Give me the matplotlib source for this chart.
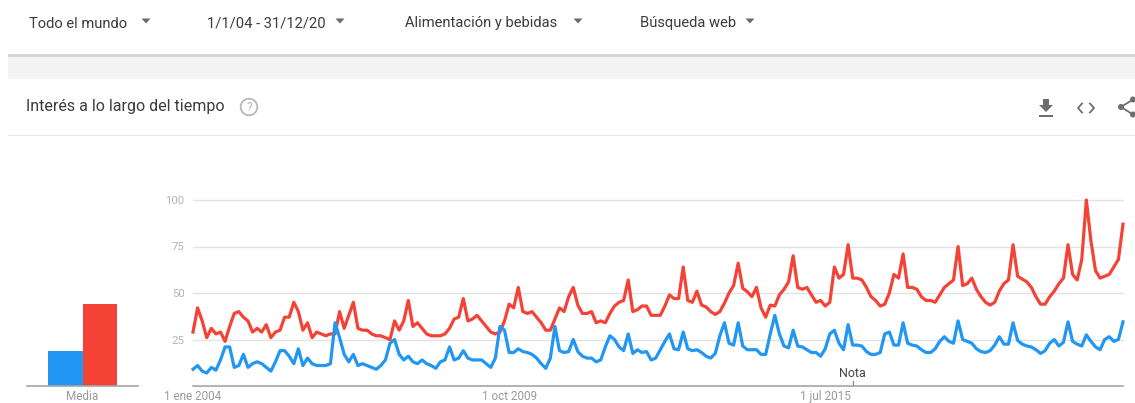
import matplotlib
matplotlib.use("Agg")
import matplotlib.pyplot as plt
from matplotlib.patches import Rectangle, Circle, Polygon
import numpy as np

W, H = 1135, 403
BLUE = '#2196F3'
RED = '#F44336'
FONT = ['Roboto', 'DejaVu Sans']
plt.rcParams['font.family'] = FONT

# ---------------- data (monthly interest, Jan 2004 - Dec 2020) ----------------
red_2004 = [29, 42, 35, 26, 31, 28, 29, 24, 32, 39, 40, 37]
red_2005 = [35, 29, 31, 29, 33, 26, 29, 30, 37, 37, 45, 40]
red_2006 = [30, 34, 26, 29, 28, 27, 28, 28, 40, 31, 38, 45]
red_2007 = [31, 30, 30, 28, 27, 27, 26, 25, 35, 30, 35, 46]
red_2008 = [32, 34, 31, 28, 27, 27, 27, 28, 31, 36, 37, 47]
red_2009 = [35, 36, 38, 35, 32, 29, 28, 29, 35, 44, 42, 53]
red_2010 = [40, 39, 40, 37, 34, 30, 30, 36, 42, 40, 48, 53]
red_2011 = [43.5, 39, 39, 40, 34, 35, 34, 39, 43, 45, 46, 57]
red_2012 = [40, 41, 43, 43, 38, 38, 38, 43, 49, 47, 47, 64]
red_2013 = [46, 45, 51, 43.5, 42.5, 40, 38.5, 40, 44.5, 50, 54, 66]
red_2014 = [52.5, 50.7, 48, 53, 42, 37, 43.5, 43, 49, 52, 56, 70]
red_2015 = [53, 52, 53, 49, 45, 46, 43, 45, 64, 58, 60, 76]
red_2016 = [58, 58, 57, 53, 48, 46, 43, 44, 50, 60, 58, 71]
red_2017 = [53, 53, 52, 48, 46, 46, 45, 49, 53, 55, 57, 75]
red_2018 = [54, 55, 58, 52, 48, 45, 43.5, 45, 51, 55, 57, 76]
red_2019 = [59, 57.5, 56, 53, 48, 44, 44, 48, 51, 55, 58, 76]
red_2020 = [60, 57, 68, 100, 78, 62, 58, 59, 60, 64, 68, 87]

blue_2004 = [9, 11, 8, 7, 10, 8.5, 14, 21, 21, 10, 11, 17]
blue_2005 = [10, 12, 13, 12, 10, 8, 13, 19, 19, 16, 12, 20]
blue_2006 = [11, 15, 12, 11, 11, 11, 12, 34, 26, 17, 13, 17]
blue_2007 = [11, 12, 11, 10, 9, 11, 14, 23, 25, 17, 14, 16]
blue_2008 = [13, 12, 14, 12, 11, 9.5, 13, 14, 21, 14, 15, 19]
blue_2009 = [15, 14, 14, 14, 12, 10, 15, 32, 30, 18, 18, 20]
blue_2010 = [18.5, 18, 17, 15, 12, 9.5, 15, 32, 19, 18, 18.5, 25]
blue_2011 = [18.5, 16, 15, 15, 13, 14, 21, 27, 25, 21, 19, 28]
blue_2012 = [17.5, 19.5, 18, 18.5, 14, 15, 19.5, 24, 28, 20, 19.5, 29]
blue_2013 = [20, 19, 19.5, 18, 16, 15, 17.5, 27, 34, 23, 22, 34]
blue_2014 = [21.5, 19.5, 19.5, 19.5, 17, 17, 28, 38, 28, 21.5, 20.5, 30]
blue_2015 = [21.5, 21, 19.5, 18, 18, 16, 20, 28, 30, 23, 19.5, 33]
blue_2016 = [22, 22, 21.5, 18.5, 17, 17, 18, 28, 29, 22, 22, 34]
blue_2017 = [23, 22, 21.5, 19.5, 18, 18, 20, 24, 26.5, 24, 23, 35]
blue_2018 = [25, 24, 23, 20, 18.5, 18, 19, 22, 26.5, 22.5, 22.5, 34]
blue_2019 = [24.5, 22.5, 21.5, 21, 19.5, 17.5, 19, 23, 25, 21.5, 23.5, 34.5]
blue_2020 = [24, 22.5, 21.5, 27.5, 24, 21, 19.5, 25, 26.5, 24, 25, 34.5]

red_years = [red_2004, red_2005, red_2006, red_2007, red_2008, red_2009, red_2010,
             red_2011, red_2012, red_2013, red_2014, red_2015, red_2016, red_2017,
             red_2018, red_2019, red_2020]
blue_years = [blue_2004, blue_2005, blue_2006, blue_2007, blue_2008, blue_2009, blue_2010,
              blue_2011, blue_2012, blue_2013, blue_2014, blue_2015, blue_2016, blue_2017,
              blue_2018, blue_2019, blue_2020]
red_values = [v for y in red_years for v in y]
blue_values = [v for y in blue_years for v in y]

avg_labels = ['Media']
avg_blue = 19
avg_red = 44

y_ticks = [25, 50, 75, 100]
x_tick_months = [0, 69, 138]
x_tick_labels = ['1 ene 2004', '1 oct 2009', '1 jul 2015']
note_month = 144
note_label = 'Nota'

filters = ['Todo el mundo', '1/1/04 - 31/12/20', 'Alimentación y bebidas', 'Búsqueda web']
title = 'Interés a lo largo del tiempo'

# ---------------- figure ----------------
fig = plt.figure(figsize=(W / 100, H / 100), dpi=100)
fig.patch.set_facecolor('white')

bg = fig.add_axes([0, 0, 1, 1])
bg.set_xlim(0, W)
bg.set_ylim(H, 0)
bg.axis('off')

# header filters
filter_x = [29, 207, 405, 640]
tri_x = [146, 340, 578, 750]
for t, x, tx in zip(filters, filter_x, tri_x):
    bg.text(x, 27.5, t, fontsize=10.6, color='#3c3c3c', va='baseline', ha='left')
    bg.add_patch(Polygon([[tx - 4.5, 18.5], [tx + 4.5, 18.5], [tx, 23.5]],
                         closed=True, color='#6b6b6b', lw=0))

# separator + grey band
bg.add_patch(Rectangle((8, 54), W - 8, 3, color='#d4d4d4', lw=0))
bg.add_patch(Rectangle((8, 57), W - 8, 22, color='#f4f4f4', lw=0))
bg.add_patch(Rectangle((8, 134.5), W - 8, 1.2, color='#e8e8e8', lw=0))

# title + help icon
bg.text(26, 111.5, title, fontsize=11.5, color='#3c3c3c', va='baseline', ha='left')
bg.add_patch(Circle((249, 107), 8.3, fill=False, ec='#b8b8b8', lw=1.3))
bg.text(249, 107.5, '?', fontsize=8.5, color='#b0b0b0', ha='center', va='center')

# download icon
bg.add_patch(Polygon([[1043, 99], [1049, 99], [1049, 105], [1053, 105], [1046, 112],
                      [1039, 105], [1043, 105]], closed=True, color='#6e6e6e', lw=0))
bg.add_patch(Rectangle((1039, 115), 14, 2, color='#6e6e6e', lw=0))
# embed icon
bg.plot([1082, 1078, 1082], [103.5, 108, 112.5], color='#6e6e6e', lw=1.3)
bg.plot([1090, 1094, 1090], [103.5, 108, 112.5], color='#6e6e6e', lw=1.3)
# share icon
bg.plot([1133, 1121, 1133], [99.5, 107, 114.5], color='#6e6e6e', lw=1.3)
for cx, cy in [(1133, 99.5), (1121, 107), (1133, 114.5)]:
    bg.add_patch(Circle((cx, cy), 3, color='#6e6e6e', lw=0))

# ---------------- main line chart ----------------
months = np.arange(len(red_values))
ax = fig.add_axes([193 / W, (H - 386) / H, 930 / W, 186 / H])
ax.set_xlim(0, len(months) - 1)
ax.set_ylim(0, 100)
for s in ax.spines.values():
    s.set_visible(False)
for yv in y_ticks:
    ax.axhline(yv, color='#e3e3e3', lw=1.0, zorder=0, clip_on=False)
ax.axhline(0, color='#a6a6a6', lw=1.2, zorder=1, clip_on=False)
ax.plot(months, red_values, color=RED, lw=2.3, clip_on=False, zorder=3)
ax.plot(months, blue_values, color=BLUE, lw=2.3, clip_on=False, zorder=4)
ax.set_yticks(y_ticks)
ax.set_yticklabels([str(v) for v in y_ticks], color='#b5b5b5', fontsize=8.2)
ax.set_xticks(x_tick_months)
ax.set_xticklabels(x_tick_labels, color='#9a9a9a', fontsize=8.5)
ax.tick_params(axis='both', length=0)
ax.tick_params(axis='y', pad=6)
ax.tick_params(axis='x', pad=3)
ax.set_facecolor('none')

ax.text(note_month, 3.3, note_label, fontsize=9, color='#444444', ha='center', va='bottom')
ax.plot([note_month, note_month], [0.6, 2.6], color='#888888', lw=0.9, clip_on=False)

# ---------------- average bars ----------------
bax = fig.add_axes([27 / W, (H - 386) / H, 111 / W, 186 / H])
bax.set_xlim(-1.63, 1.63)
bax.set_ylim(0, 100)
for s in bax.spines.values():
    s.set_visible(False)
bax.bar([-0.5], [avg_blue], width=1.0, color=BLUE, lw=0)
bax.bar([0.5], [avg_red], width=1.0, color=RED, lw=0)
bax.axhline(0, color='#a6a6a6', lw=1.2, clip_on=False)
bax.set_yticks([])
bax.set_xticks([0])
bax.set_xticklabels(avg_labels, color='#9a9a9a', fontsize=8.5)
bax.tick_params(axis='x', length=0, pad=3)
bax.set_facecolor('none')

fig.savefig('out.png', dpi=100, facecolor='white')
